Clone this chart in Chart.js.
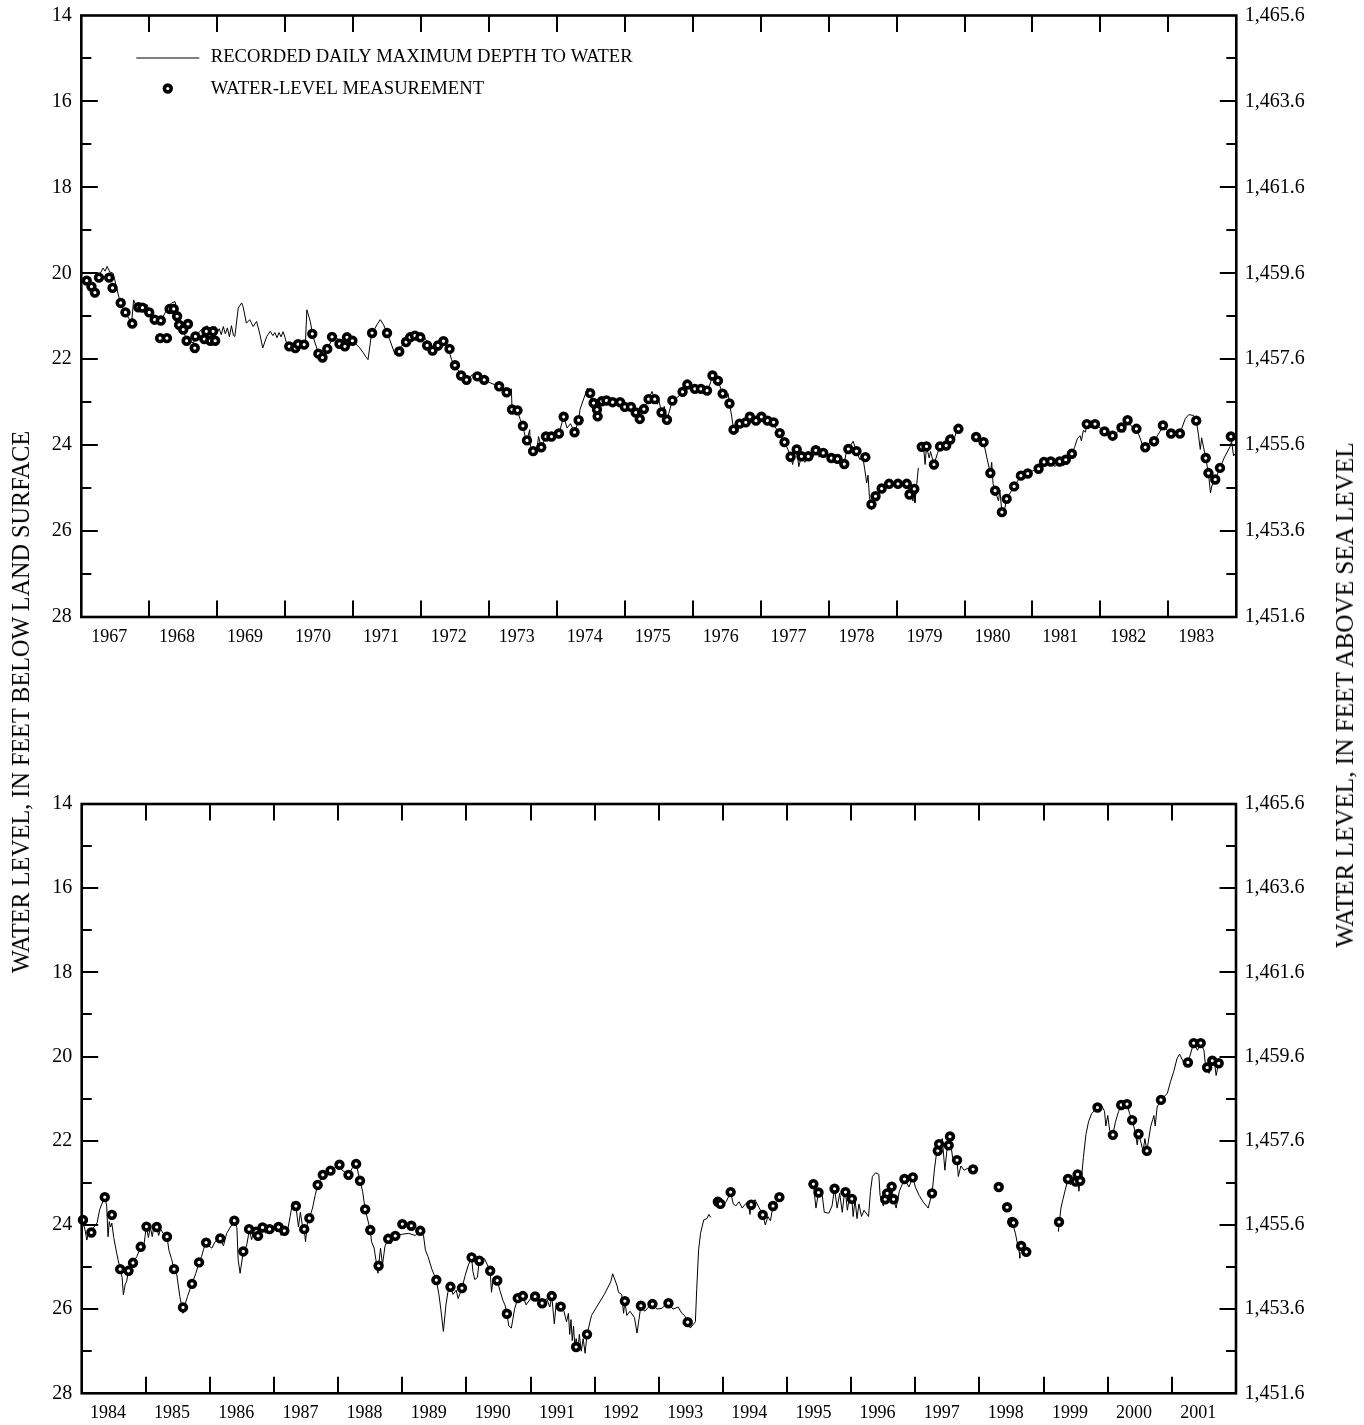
<!DOCTYPE html>
<html>
<head>
<meta charset="utf-8">
<title>Water level hydrograph</title>
<script src="https://cdn.jsdelivr.net/npm/chart.js@4.4.1/dist/chart.umd.min.js"></script>
<style>
  html, body { margin: 0; padding: 0; background: #fff; }
  #page { position: relative; width: 1364px; height: 1425px; overflow: hidden; background: #fff; }
  canvas { position: absolute; left: 0; }
  .axis-title {
    position: absolute;
    font-family: "Liberation Serif", "Times New Roman", serif;
    color: #000;
    white-space: nowrap;
    transform: translate(-50%, -50%) rotate(-90deg);
  }
</style>
</head>
<body>
<div id="page">
  <canvas id="upper" width="1364" height="680" style="top:0;width:1364px;height:680px"></canvas>
  <canvas id="lower" width="1364" height="685" style="top:740px;width:1364px;height:685px"></canvas>
  <div class="axis-title" style="left:21px;top:702px;font-size:24.2px">WATER LEVEL, IN FEET BELOW LAND SURFACE</div>
  <div class="axis-title" style="left:1345px;top:695px;font-size:25.2px">WATER LEVEL, IN FEET ABOVE SEA LEVEL</div>
</div>
<script>
// ---- axis labels ----
const topYears = [1967, 1968, 1969, 1970, 1971, 1972, 1973, 1974, 1975, 1976, 1977, 1978, 1979, 1980, 1981, 1982, 1983];
const bottomYears = [1984, 1985, 1986, 1987, 1988, 1989, 1990, 1991, 1992, 1993, 1994, 1995, 1996, 1997, 1998, 1999, 2000, 2001];
const depthTicks = [14, 16, 18, 20, 22, 24, 26, 28];
const altitudeTicks = [1451.6, 1453.6, 1455.6, 1457.6, 1459.6, 1461.6, 1463.6, 1465.6];
const legendLabels = ['RECORDED DAILY MAXIMUM DEPTH TO WATER', 'WATER-LEVEL MEASUREMENT'];

// ---- recorder and measurement series: [decimal year, depth to water in feet]; null depth = no record ----
const topRecorded = [
  [1967.00,20.00],[1967.28,20.00],[1967.32,19.88],[1967.35,19.95],[1967.38,19.84],[1967.42,19.97],[1967.47,20.00],[1967.52,20.34],[1967.57,20.66],[1967.64,20.89],
  [1967.74,21.16],[1967.77,20.62],[1967.81,20.76],[1967.85,20.69],[1967.91,20.78],[1967.97,20.73],[1968.01,20.93],[1968.08,21.08],[1968.18,21.08],[1968.23,20.93],
  [1968.28,20.77],[1968.33,20.69],[1968.38,20.66],[1968.43,21.00],[1968.48,21.24],[1968.55,21.55],[1968.65,21.62],[1968.70,21.43],[1968.77,21.31],[1968.82,21.36],
  [1968.85,21.22],[1968.88,21.41],[1968.91,21.27],[1968.94,21.45],[1968.97,21.24],[1969.00,21.38],[1969.03,21.29],[1969.06,21.43],[1969.09,21.24],[1969.12,21.41],
  [1969.15,21.27],[1969.18,21.48],[1969.21,21.22],[1969.24,21.45],[1969.26,21.47],[1969.31,20.81],[1969.36,20.69],[1969.38,20.77],[1969.43,21.16],[1969.48,21.08],
  [1969.53,21.24],[1969.58,21.12],[1969.63,21.43],[1969.67,21.74],[1969.73,21.47],[1969.78,21.35],[1969.82,21.45],[1969.85,21.38],[1969.88,21.50],[1969.91,21.38],
  [1969.94,21.48],[1969.97,21.36],[1970.00,21.50],[1970.02,21.62],[1970.12,21.70],[1970.22,21.66],[1970.30,21.58],[1970.32,20.85],[1970.37,21.12],[1970.41,21.47],
  [1970.49,21.86],[1970.54,22.05],[1970.59,21.85],[1970.69,21.55],[1970.76,21.51],[1970.86,21.66],[1970.91,21.55],[1971.00,21.58],[1971.10,21.74],[1971.15,21.85],
  [1971.20,21.97],[1971.22,22.01],[1971.27,21.43],[1971.35,21.20],[1971.40,21.08],[1971.45,21.20],[1971.54,21.55],[1971.62,21.90],[1971.69,21.74],[1971.79,21.55],
  [1971.89,21.43],[1972.03,21.47],[1972.18,21.74],[1972.28,21.62],[1972.34,21.55],[1972.40,21.74],[1972.45,22.01],[1972.50,22.17],[1972.60,22.36],[1972.67,22.55],
  [1972.75,22.36],[1972.87,22.44],[1973.02,22.55],[1973.14,22.63],[1973.26,22.77],[1973.33,22.69],[1973.34,23.17],[1973.42,23.19],[1973.46,23.40],[1973.50,23.55],
  [1973.54,23.85],[1973.56,23.89],[1973.60,23.64],[1973.61,24.03],[1973.65,24.14],[1973.71,24.05],[1973.73,23.80],[1973.77,24.05],[1973.84,23.80],[1973.92,23.80],
  [1974.03,23.73],[1974.10,23.34],[1974.15,23.60],[1974.20,23.50],[1974.26,23.70],[1974.32,23.42],[1974.34,23.17],[1974.45,22.67],[1974.49,22.79],[1974.52,23.05],
  [1974.54,23.02],[1974.59,23.17],[1974.60,23.33],[1974.63,23.05],[1974.66,22.98],[1974.73,22.96],[1974.78,23.05],[1974.82,23.00],[1974.88,23.08],[1974.93,23.00],
  [1974.97,23.12],[1975.00,23.11],[1975.05,23.02],[1975.09,23.11],[1975.16,23.24],[1975.22,23.39],[1975.28,23.16],[1975.35,22.93],[1975.40,22.75],[1975.44,22.93],
  [1975.48,23.05],[1975.50,22.95],[1975.54,23.24],[1975.58,23.10],[1975.62,23.41],[1975.70,22.96],[1975.78,22.88],[1975.85,22.76],[1975.92,22.59],[1976.03,22.69],
  [1976.12,22.69],[1976.21,22.73],[1976.26,22.55],[1976.29,22.38],[1976.37,22.50],[1976.44,22.80],[1976.50,22.90],[1976.52,22.80],[1976.54,23.03],[1976.57,23.30],
  [1976.60,23.64],[1976.64,23.45],[1976.66,23.70],[1976.69,23.50],[1976.73,23.60],[1976.78,23.47],[1976.84,23.34],[1976.93,23.43],[1977.01,23.34],[1977.10,23.43],
  [1977.15,23.38],[1977.19,23.47],[1977.22,23.60],[1977.28,23.72],[1977.35,23.93],[1977.40,24.10],[1977.44,24.27],[1977.47,24.45],[1977.50,24.20],[1977.53,24.10],
  [1977.56,24.50],[1977.60,24.26],[1977.65,24.40],[1977.70,24.26],[1977.75,24.35],[1977.81,24.12],[1977.86,24.28],[1977.92,24.18],[1977.98,24.25],[1978.04,24.30],
  [1978.13,24.32],[1978.23,24.44],[1978.26,24.15],[1978.29,24.09],[1978.36,23.91],[1978.41,24.14],[1978.46,24.34],[1978.50,24.25],[1978.53,24.55],[1978.56,24.88],
  [1978.58,24.70],[1978.60,25.20],[1978.63,25.50],[1978.69,25.19],[1978.78,25.01],[1978.89,24.90],[1979.02,24.90],[1979.10,24.92],[1979.15,24.90],[1979.19,25.15],
  [1979.22,25.00],[1979.24,25.30],[1979.26,25.02],[1979.27,25.34],[1979.32,24.53],[1979.34,null],
  [1979.36,24.06],[1979.37,24.04],[1979.40,24.10],[1979.42,24.45],[1979.44,24.03],[1979.48,24.30],[1979.50,24.15],[1979.55,24.45],[1979.60,24.20],[1979.64,24.03],
  [1979.68,23.95],[1979.73,24.01],[1979.76,23.90],[1979.79,23.87],[1979.82,23.75],[1979.85,23.85],[1979.88,23.68],[1979.91,23.62],[1980.00,null],
  [1980.15,23.78],[1980.17,23.81],[1980.22,23.90],[1980.28,23.93],[1980.33,24.30],[1980.38,24.65],[1980.40,24.40],[1980.42,24.90],[1980.45,25.06],[1980.50,25.30],
  [1980.52,25.05],[1980.55,25.56],[1980.57,25.65],[1980.62,25.25],[1980.73,24.96],[1980.83,24.71],[1980.93,24.66],[1981.00,24.60],[1981.09,24.55],[1981.17,24.39],
  [1981.27,24.38],[1981.33,24.50],[1981.40,24.38],[1981.46,24.48],[1981.49,24.34],[1981.58,24.20],[1981.62,24.05],[1981.66,23.85],[1981.70,23.78],[1981.72,23.90],
  [1981.75,23.65],[1981.78,23.70],[1981.80,23.51],[1981.86,23.60],[1981.92,23.51],[1982.00,23.60],[1982.06,23.68],[1982.18,23.78],[1982.25,23.70],[1982.31,23.59],
  [1982.35,23.70],[1982.40,23.42],[1982.45,23.55],[1982.53,23.62],[1982.60,23.90],[1982.64,24.15],[1982.66,24.05],[1982.72,23.95],[1982.79,23.91],[1982.85,23.75],
  [1982.90,23.62],[1982.92,23.54],[1982.98,23.65],[1983.04,23.73],[1983.10,23.70],[1983.17,23.73],[1983.25,23.38],[1983.30,23.29],[1983.37,23.31],[1983.41,23.43],
  [1983.44,23.72],[1983.47,24.10],[1983.49,23.83],[1983.55,24.30],[1983.59,24.65],[1983.62,25.11],[1983.64,24.95],[1983.69,24.80],[1983.76,24.53],[1983.82,24.30],
  [1983.91,24.03],[1983.93,23.90],[1983.96,24.25],[1984.00,24.17]
];

const topMeasured = [
  [1967.08,20.17],[1967.15,20.31],[1967.20,20.45],[1967.26,20.10],[1967.41,20.10],[1967.46,20.34],[1967.58,20.69],[1967.65,20.91],[1967.75,21.17],[1967.84,20.79],
  [1967.90,20.80],[1968.00,20.91],[1968.08,21.08],[1968.17,21.10],[1968.16,21.51],[1968.26,21.51],[1968.30,20.83],[1968.36,20.83],[1968.41,21.00],[1968.44,21.20],
  [1968.50,21.31],[1968.57,21.18],[1968.55,21.57],[1968.67,21.74],[1968.68,21.47],[1968.81,21.53],[1968.84,21.35],[1968.90,21.57],[1968.94,21.35],[1968.97,21.57],
  [1970.06,21.70],[1970.15,21.74],[1970.19,21.65],[1970.28,21.66],[1970.40,21.41],[1970.49,21.87],[1970.55,21.96],[1970.62,21.76],[1970.69,21.48],[1970.80,21.64],
  [1970.88,21.70],[1970.91,21.49],[1970.99,21.57],[1971.28,21.39],[1971.50,21.39],[1971.68,21.82],[1971.78,21.60],[1971.84,21.49],[1971.91,21.45],[1971.99,21.49],
  [1972.09,21.68],[1972.17,21.80],[1972.25,21.68],[1972.33,21.58],[1972.42,21.76],[1972.50,22.14],[1972.59,22.38],[1972.67,22.48],[1972.83,22.40],[1972.93,22.48],
  [1973.15,22.63],[1973.26,22.77],[1973.34,23.17],[1973.42,23.19],[1973.50,23.55],[1973.56,23.89],[1973.65,24.14],[1973.77,24.05],[1973.84,23.80],[1973.92,23.80],
  [1974.03,23.73],[1974.10,23.34],[1974.26,23.70],[1974.32,23.42],[1974.49,22.79],[1974.54,23.02],[1974.59,23.17],[1974.60,23.33],[1974.66,22.98],[1974.73,22.96],
  [1974.82,23.00],[1974.93,23.00],[1975.00,23.11],[1975.09,23.11],[1975.16,23.24],[1975.22,23.39],[1975.28,23.16],[1975.35,22.93],[1975.44,22.93],[1975.54,23.24],
  [1975.62,23.41],[1975.70,22.96],[1975.85,22.76],[1975.92,22.59],[1976.03,22.69],[1976.12,22.69],[1976.21,22.73],[1976.29,22.38],[1976.37,22.50],[1976.44,22.80],
  [1976.54,23.03],[1976.60,23.64],[1976.69,23.50],[1976.78,23.47],[1976.84,23.34],[1976.93,23.43],[1977.01,23.34],[1977.10,23.43],[1977.19,23.47],[1977.28,23.72],
  [1977.35,23.93],[1977.44,24.27],[1977.53,24.10],[1977.60,24.26],[1977.70,24.26],[1977.81,24.12],[1977.92,24.18],[1978.04,24.30],[1978.13,24.32],[1978.23,24.44],
  [1978.29,24.09],[1978.41,24.14],[1978.54,24.28],[1978.63,25.38],[1978.69,25.19],[1978.78,25.01],[1978.89,24.90],[1979.02,24.90],[1979.15,24.90],[1979.19,25.15],
  [1979.26,25.02],[1979.37,24.04],[1979.44,24.03],[1979.55,24.45],[1979.64,24.03],[1979.73,24.01],[1979.79,23.87],[1979.91,23.62],[1980.17,23.81],[1980.28,23.93],
  [1980.38,24.65],[1980.45,25.06],[1980.55,25.56],[1980.62,25.25],[1980.73,24.96],[1980.83,24.71],[1980.93,24.66],[1981.09,24.55],[1981.17,24.39],[1981.27,24.38],
  [1981.40,24.38],[1981.49,24.34],[1981.58,24.20],[1981.80,23.51],[1981.92,23.51],[1982.06,23.68],[1982.18,23.78],[1982.31,23.59],[1982.40,23.42],[1982.53,23.62],
  [1982.66,24.05],[1982.79,23.91],[1982.92,23.54],[1983.04,23.73],[1983.17,23.73],[1983.41,23.43],[1983.55,24.30],[1983.59,24.65],[1983.69,24.80],[1983.76,24.53],
  [1983.92,23.80]
];

const bottomRecorded = [
  [1984.00,24.04],[1984.02,23.95],[1984.05,24.10],[1984.08,24.36],[1984.11,24.15],[1984.15,24.18],[1984.19,24.05],[1984.24,23.95],[1984.28,23.64],[1984.32,23.48],
  [1984.36,23.34],[1984.39,23.55],[1984.41,24.28],[1984.43,23.92],[1984.45,24.05],[1984.47,23.96],[1984.50,24.30],[1984.53,24.55],[1984.57,24.85],[1984.60,25.05],
  [1984.63,25.25],[1984.65,25.66],[1984.68,25.40],[1984.70,25.35],[1984.73,25.09],[1984.80,24.90],[1984.86,24.75],[1984.92,24.52],[1984.96,24.60],[1984.99,24.25],
  [1985.01,24.04],[1985.04,24.30],[1985.07,24.05],[1985.10,24.28],[1985.13,24.00],[1985.17,24.05],[1985.20,24.25],[1985.23,24.10],[1985.27,24.20],[1985.33,24.28],
  [1985.36,24.60],[1985.40,24.80],[1985.44,25.05],[1985.48,25.15],[1985.53,25.70],[1985.58,26.10],[1985.60,25.95],[1985.65,25.70],[1985.70,25.48],[1985.72,25.40],
  [1985.78,25.15],[1985.83,24.89],[1985.87,24.75],[1985.90,24.58],[1985.94,24.42],[1985.98,24.50],[1986.03,24.55],[1986.08,24.40],[1986.16,24.32],[1986.21,24.50],
  [1986.26,24.20],[1986.34,24.00],[1986.38,23.90],[1986.42,24.06],[1986.44,24.83],[1986.47,25.15],[1986.52,24.63],[1986.57,24.50],[1986.60,24.25],[1986.61,24.10],
  [1986.65,24.35],[1986.68,24.15],[1986.72,24.16],[1986.75,24.30],[1986.78,24.10],[1986.82,24.06],[1986.87,24.20],[1986.93,24.10],[1986.97,24.18],[1987.02,24.05],
  [1987.07,24.05],[1987.11,24.25],[1987.16,24.14],[1987.20,24.22],[1987.25,23.80],[1987.29,23.45],[1987.34,23.55],[1987.38,24.05],[1987.41,23.70],[1987.45,24.10],
  [1987.47,24.10],[1987.49,24.40],[1987.52,23.95],[1987.55,23.84],[1987.60,23.60],[1987.64,23.30],[1987.68,23.05],[1987.76,22.81],[1987.88,22.71],[1988.02,22.57],
  [1988.06,22.70],[1988.11,22.75],[1988.16,22.81],[1988.22,22.65],[1988.28,22.55],[1988.34,22.95],[1988.38,23.20],[1988.42,23.63],[1988.50,24.12],[1988.52,24.40],
  [1988.56,24.55],[1988.60,24.95],[1988.62,25.15],[1988.63,24.97],[1988.66,24.55],[1988.69,24.95],[1988.73,24.50],[1988.78,24.33],[1988.82,24.45],[1988.89,24.26],
  [1989.00,24.22],[1989.10,24.20],[1989.20,24.25],[1989.28,24.14],[1989.33,24.25],[1989.36,24.60],[1989.40,24.75],[1989.46,25.05],[1989.53,25.31],[1989.57,25.65],
  [1989.60,26.00],[1989.64,26.53],[1989.68,25.90],[1989.71,25.60],[1989.75,25.47],[1989.79,25.65],[1989.84,25.55],[1989.87,25.75],[1989.93,25.50],[1989.98,25.20],
  [1990.03,24.95],[1990.08,24.77],[1990.10,25.10],[1990.13,25.30],[1990.17,25.25],[1990.20,24.85],[1990.28,24.80],[1990.37,25.09],[1990.39,25.60],[1990.42,25.25],
  [1990.48,25.32],[1990.52,25.55],[1990.57,25.80],[1990.60,25.90],[1990.63,26.11],[1990.66,26.40],[1990.70,26.45],[1990.75,26.00],[1990.80,25.74],[1990.88,25.69],
  [1990.93,25.90],[1991.00,25.75],[1991.07,25.70],[1991.12,25.80],[1991.18,25.86],[1991.25,25.75],[1991.30,25.95],[1991.33,25.69],[1991.37,26.35],[1991.40,25.85],
  [1991.47,25.94],[1991.52,26.05],[1991.56,26.30],[1991.59,26.10],[1991.61,26.60],[1991.63,26.25],[1991.65,26.75],[1991.67,26.40],[1991.69,26.90],[1991.71,26.70],
  [1991.74,26.95],[1991.76,26.60],[1991.79,27.00],[1991.82,26.70],[1991.85,27.05],[1991.88,26.60],[1991.95,26.15],[1992.05,25.90],[1992.15,25.65],[1992.25,25.35],
  [1992.28,25.16],[1992.35,25.45],[1992.37,25.60],[1992.42,25.65],[1992.45,26.10],[1992.47,25.81],[1992.50,26.15],[1992.55,26.05],[1992.62,26.20],[1992.66,26.57],
  [1992.72,25.92],[1992.78,26.05],[1992.84,25.95],[1992.90,25.88],[1992.97,26.00],[1993.05,25.98],[1993.10,25.90],[1993.15,25.86],[1993.22,26.00],[1993.30,25.95],
  [1993.36,26.10],[1993.40,26.15],[1993.45,26.31],[1993.49,26.45],[1993.57,26.30],[1993.59,25.54],[1993.62,24.59],[1993.65,24.20],[1993.70,23.88],[1993.75,23.85],
  [1993.78,23.75],[1993.81,23.82],[1993.86,null],
  [1993.90,23.40],[1993.92,23.45],[1993.96,23.50],[1994.00,23.55],[1994.05,23.45],[1994.12,23.22],[1994.16,23.50],[1994.20,23.55],[1994.25,23.45],[1994.30,23.60],
  [1994.35,23.50],[1994.40,23.45],[1994.42,23.75],[1994.44,23.52],[1994.50,23.40],[1994.55,23.55],[1994.62,23.76],[1994.66,24.00],[1994.70,23.80],[1994.74,23.90],
  [1994.78,23.55],[1994.84,23.45],[1994.88,23.34],[1995.00,null],
  [1995.40,23.05],[1995.41,23.03],[1995.45,23.60],[1995.49,23.23],[1995.54,23.20],[1995.58,23.70],[1995.65,23.72],[1995.70,23.55],[1995.74,23.14],[1995.78,23.60],
  [1995.82,23.25],[1995.86,23.70],[1995.89,23.30],[1995.91,23.22],[1995.94,23.65],[1995.97,23.35],[1996.01,23.38],[1996.03,23.80],[1996.06,23.40],[1996.09,23.85],
  [1996.12,23.50],[1996.16,23.80],[1996.20,23.65],[1996.27,23.80],[1996.30,23.20],[1996.33,22.85],[1996.38,22.76],[1996.43,22.80],[1996.45,23.30],[1996.50,23.55],
  [1996.53,23.39],[1996.56,23.25],[1996.60,23.30],[1996.63,23.09],[1996.66,23.39],[1996.70,23.60],[1996.75,23.20],[1996.83,22.91],[1996.90,23.10],[1996.96,22.87],
  [1997.00,23.10],[1997.06,23.30],[1997.12,23.45],[1997.20,23.60],[1997.26,23.25],[1997.30,22.65],[1997.33,22.30],[1997.35,22.24],[1997.37,22.08],[1997.42,21.95],
  [1997.46,22.70],[1997.50,22.10],[1997.52,22.11],[1997.54,21.90],[1997.58,22.40],[1997.62,22.45],[1997.65,22.46],[1997.67,22.85],[1997.71,22.60],[1997.76,22.70],
  [1997.82,22.65],[1997.86,22.75],[1997.90,22.68],[1998.00,null],
  [1998.45,23.84],[1998.47,24.05],[1998.49,23.90],[1998.52,23.98],[1998.56,24.20],[1998.59,24.43],[1998.62,24.65],[1998.63,24.79],[1998.80,null],
  [1999.23,24.16],[1999.27,23.60],[1999.30,23.40],[1999.34,23.15],[1999.38,22.91],[1999.42,23.05],[1999.46,22.90],[1999.50,22.97],[1999.53,22.80],[1999.55,23.20],
  [1999.57,22.95],[1999.59,22.90],[1999.62,22.40],[1999.66,21.85],[1999.70,21.55],[1999.75,21.35],[1999.84,21.21],[1999.90,21.15],[1999.95,21.30],[1999.97,21.65],
  [2000.00,21.40],[2000.03,21.75],[2000.08,21.86],[2000.12,21.55],[2000.17,21.30],[2000.21,21.15],[2000.25,21.05],[2000.30,21.13],[2000.34,21.35],[2000.38,21.51],
  [2000.43,21.80],[2000.46,22.10],[2000.48,21.84],[2000.52,22.05],[2000.55,22.25],[2000.58,21.95],[2000.61,22.24],[2000.67,21.66],[2000.70,21.50],[2000.72,21.40],
  [2000.74,21.65],[2000.77,21.20],[2000.83,21.03],[2000.88,20.95],[2000.93,20.87],[2000.98,20.59],[2001.03,20.35],[2001.08,20.05],[2001.12,19.94],[2001.17,20.10],
  [2001.21,20.25],[2001.25,20.14],[2001.29,19.94],[2001.34,19.68],[2001.40,19.85],[2001.45,19.68],[2001.50,19.85],[2001.53,20.30],[2001.55,20.26],[2001.58,20.40],
  [2001.63,20.10],[2001.67,20.20],[2001.69,20.45],[2001.73,20.16],[2001.75,20.20]
];

const bottomMeasured = [
  [1984.02,23.88],[1984.15,24.18],[1984.36,23.34],[1984.47,23.76],[1984.60,25.05],[1984.73,25.09],[1984.80,24.90],[1984.92,24.52],[1985.01,24.04],[1985.17,24.05],
  [1985.33,24.28],[1985.44,25.05],[1985.58,25.96],[1985.72,25.40],[1985.83,24.89],[1985.94,24.42],[1986.16,24.32],[1986.38,23.90],[1986.52,24.63],[1986.61,24.10],
  [1986.72,24.16],[1986.75,24.26],[1986.82,24.06],[1986.93,24.10],[1987.07,24.05],[1987.16,24.14],[1987.34,23.55],[1987.47,24.10],[1987.55,23.84],[1987.68,23.05],
  [1987.76,22.81],[1987.88,22.71],[1988.02,22.57],[1988.16,22.81],[1988.28,22.55],[1988.34,22.95],[1988.42,23.63],[1988.50,24.12],[1988.63,24.97],[1988.78,24.33],
  [1988.89,24.26],[1989.00,23.98],[1989.14,24.02],[1989.28,24.14],[1989.53,25.31],[1989.75,25.47],[1989.93,25.50],[1990.08,24.77],[1990.20,24.85],[1990.37,25.09],
  [1990.48,25.32],[1990.63,26.11],[1990.80,25.74],[1990.88,25.69],[1991.07,25.70],[1991.18,25.86],[1991.33,25.69],[1991.47,25.94],[1991.71,26.90],[1991.88,26.60],
  [1992.47,25.81],[1992.72,25.92],[1992.90,25.88],[1993.15,25.86],[1993.45,26.31],[1993.92,23.45],[1993.96,23.50],[1994.12,23.22],[1994.44,23.52],[1994.62,23.76],
  [1994.78,23.55],[1994.88,23.34],[1995.41,23.03],[1995.49,23.23],[1995.74,23.14],[1995.91,23.22],[1996.01,23.38],[1996.53,23.39],[1996.56,23.25],[1996.63,23.09],
  [1996.66,23.39],[1996.83,22.91],[1996.96,22.87],[1997.26,23.25],[1997.35,22.24],[1997.37,22.08],[1997.52,22.11],[1997.54,21.90],[1997.65,22.46],[1997.90,22.68],
  [1998.30,23.10],[1998.43,23.58],[1998.51,23.93],[1998.53,23.95],[1998.65,24.50],[1998.73,24.64],[1999.24,23.93],[1999.38,22.91],[1999.50,22.97],[1999.53,22.80],
  [1999.57,22.95],[1999.84,21.21],[2000.08,21.86],[2000.21,21.15],[2000.30,21.13],[2000.38,21.51],[2000.48,21.84],[2000.61,22.24],[2000.83,21.03],[2001.25,20.14],
  [2001.34,19.68],[2001.45,19.68],[2001.55,20.26],[2001.63,20.10],[2001.73,20.16]
];

// ---- drawing ----
const SERIF = "'Liberation Serif', 'Times New Roman', serif";
const toPoints = rows => rows.map(r => ({ x: r[0], y: r[1] }));
const fmtAltitude = v => Number(v).toLocaleString('en-US', { minimumFractionDigits: 1, maximumFractionDigits: 1 });

// Plot frame plus inward-pointing year and foot ticks on all four sides
const framePlugin = {
  id: 'frameTicks',
  afterDatasetsDraw(chart) {
    const { ctx, chartArea: a, scales } = chart;
    const xs = scales.x, ys = scales.y;
    ctx.save();
    ctx.strokeStyle = '#000';
    ctx.lineWidth = 2;
    ctx.lineCap = 'butt';
    ctx.beginPath();
    for (let t = xs.min + 1; t < xs.max; t++) {
      const px = Math.round(xs.getPixelForValue(t));
      ctx.moveTo(px, a.bottom); ctx.lineTo(px, a.bottom - 16.5);
      ctx.moveTo(px, a.top); ctx.lineTo(px, a.top + 16.5);
    }
    for (let d = ys.min + 1; d < ys.max; d++) {
      const py = Math.round(ys.getPixelForValue(d));
      const len = d % 2 === 0 ? 16.5 : 10;
      ctx.moveTo(a.left, py); ctx.lineTo(a.left + len, py);
      ctx.moveTo(a.right, py); ctx.lineTo(a.right - len, py);
    }
    ctx.stroke();
    ctx.lineWidth = 2.6;
    ctx.strokeRect(a.left, a.top, a.right - a.left, a.bottom - a.top);
    ctx.restore();
  }
};

// Key in the upper-left corner of the first panel
const keyPlugin = {
  id: 'seriesKey',
  afterDraw(chart) {
    const { ctx, chartArea: a } = chart;
    ctx.save();
    ctx.fillStyle = '#000';
    ctx.strokeStyle = '#000';
    ctx.font = '18.6px ' + SERIF;
    ctx.textBaseline = 'alphabetic';
    ctx.textAlign = 'left';
    ctx.lineWidth = 1;
    ctx.beginPath();
    ctx.moveTo(a.left + 55, a.top + 42.5);
    ctx.lineTo(a.left + 118, a.top + 42.5);
    ctx.stroke();
    ctx.fillText(legendLabels[0], a.left + 129.5, a.top + 46);
    ctx.beginPath();
    ctx.arc(a.left + 86.5, a.top + 73, 3.4, 0, Math.PI * 2);
    ctx.fillStyle = '#fff';
    ctx.fill();
    ctx.lineWidth = 3.6;
    ctx.stroke();
    ctx.fillStyle = '#000';
    ctx.fillText(legendLabels[1], a.left + 129.5, a.top + 78);
    ctx.restore();
  }
};

function buildPanel(canvasId, cfg) {
  const { recorded, measured, years, area, xAxisH, labelPad, withKey } = cfg;
  const canvas = document.getElementById(canvasId);
  const W = canvas.width, H = canvas.height;
  const first = years[0], last = years[years.length - 1] + 1;
  return new Chart(canvas, {
    type: 'line',
    data: {
      datasets: [
        {
          label: legendLabels[1],
          data: toPoints(measured),
          showLine: false,
          pointRadius: 3.4,
          pointHoverRadius: 3.4,
          pointBorderWidth: 3.6,
          pointBackgroundColor: '#fff',
          pointBorderColor: '#000',
          order: 0,
          clip: false
        },
        {
          label: legendLabels[0],
          data: toPoints(recorded),
          borderColor: '#000',
          borderWidth: 1,
          pointRadius: 0,
          pointHoverRadius: 0,
          tension: 0,
          spanGaps: false,
          fill: false,
          order: 1
        }
      ]
    },
    options: {
      responsive: false,
      animation: false,
      devicePixelRatio: 1,
      events: [],
      layout: { padding: { left: 0, right: 0, top: area.top, bottom: H - area.bottom - xAxisH } },
      plugins: { legend: { display: false }, tooltip: { enabled: false }, title: { display: false } },
      scales: {
        x: {
          type: 'linear', position: 'bottom', min: first, max: last,
          grid: { display: false, drawTicks: false }, border: { display: false },
          afterBuildTicks: s => { s.ticks = years.map(v => ({ value: v + 0.41 })); },
          afterFit: s => { s.height = xAxisH; },
          ticks: {
            autoSkip: false, maxRotation: 0, minRotation: 0, padding: labelPad, color: '#000',
            font: { family: SERIF, size: 18 },
            callback: (v, i) => String(years[i])
          }
        },
        y: {
          type: 'linear', position: 'left', reverse: true, min: 14, max: 28,
          grid: { display: false, drawTicks: true, tickLength: 9.5 }, border: { display: false },
          afterBuildTicks: s => { s.ticks = depthTicks.map(v => ({ value: v })); },
          afterFit: s => { s.width = area.left; },
          ticks: { padding: 0, color: '#000', font: { family: SERIF, size: 20 }, callback: v => String(v) }
        },
        y2: {
          type: 'linear', position: 'right', min: altitudeTicks[0], max: altitudeTicks[altitudeTicks.length - 1],
          grid: { display: false, drawTicks: true, tickLength: 8.5 }, border: { display: false },
          afterBuildTicks: s => { s.ticks = altitudeTicks.map(v => ({ value: v })); },
          afterFit: s => { s.width = W - area.right; },
          ticks: { padding: 0, color: '#000', font: { family: SERIF, size: 20 }, callback: v => fmtAltitude(v) }
        }
      }
    },
    plugins: withKey ? [framePlugin, keyPlugin] : [framePlugin]
  });
}

buildPanel('upper', {
  recorded: topRecorded, measured: topMeasured, years: topYears,
  area: { left: 81.3, right: 1236.3, top: 15.5, bottom: 617 },
  xAxisH: 40, labelPad: 9.5, withKey: true
});

buildPanel('lower', {
  recorded: bottomRecorded, measured: bottomMeasured, years: bottomYears,
  area: { left: 81.7, right: 1236, top: 64, bottom: 653.3 },
  xAxisH: 30, labelPad: 9, withKey: false
});
</script>
</body>
</html>
